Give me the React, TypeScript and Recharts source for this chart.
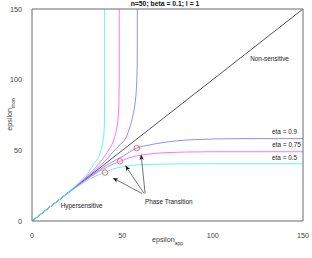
import React from 'react';
import { LineChart, Line, XAxis, YAxis, ReferenceDot, ReferenceLine } from 'recharts';

const ticks = [0, 50, 100, 150];

// eta = 0.5 (cyan)
const cyanLowX = [0, 10, 20, 25, 30, 35, 40.4, 45, 50, 55, 62, 70, 80, 100, 150];
const cyanLowY = [0, 10, 19.8, 24.2, 28.3, 31.7, 34.3, 36.9, 38.3, 39.3, 39.9, 40.2, 40.4, 40.5, 40.5];
const cyanUpX = [0, 10, 19.8, 24.2, 28.2, 31.6, 34.2, 36.8, 38.1, 39.1, 39.8, 40.1, 40.15, 40.2, 40.2];
const cyanUpY = [0, 10, 20, 25, 30, 35, 40.4, 45, 50, 55, 62, 70, 80, 100, 150];

// eta = 0.75 (magenta)
const magLowX = [0, 12, 24, 30, 36, 42, 48.7, 54, 60, 67, 75, 85, 100, 150];
const magLowY = [0, 12, 23.8, 29.2, 34.2, 38.5, 42.2, 44.8, 46.5, 47.7, 48.4, 48.8, 49, 49];
const magUpX = [0, 12, 23.8, 29, 33.9, 38, 41.7, 44.2, 45.9, 47.1, 47.8, 48.1, 48.3, 48.3];
const magUpY = [0, 12, 24, 30, 36, 42, 48.7, 54, 60, 67, 75, 85, 100, 150];

// eta = 0.9 (blue)
const blueLowX = [0, 14.5, 29, 36, 43, 50.5, 58, 65, 72, 80, 90, 100, 120, 150];
const blueLowY = [0, 14.5, 28.6, 35, 40.8, 46, 51.6, 53.8, 55.4, 56.7, 57.6, 58, 58.3, 58.3];
const blueUpX = [0, 14.5, 28.6, 35, 40.8, 46, 51.6, 53.8, 55.4, 56.7, 57.6, 58, 58.3, 58.3];
const blueUpY = [0, 14.5, 29, 36, 43, 50.5, 58, 65, 72, 80, 90, 100, 120, 150];

// non-sensitive diagonal
const diagX = [0, 150];
const diagY = [0, 150];

// phase transition markers
const transX = [40.4, 48.7, 58];
const transY = [34.3, 42.2, 51.6];

// arrows: tail -> tip
const arrowTailX = [61, 62, 62.6];
const arrowTailY = [19.4, 19.5, 19.5];
const arrowTipX = [44.7, 51.7, 60.4];
const arrowTipY = [30.5, 39.2, 47];

const notes = [
  { text: 'Non-sensitive', x: 131.5, y: 114.6 },
  { text: 'eta = 0.9', x: 139.8, y: 62.8 },
  { text: 'eta = 0.75', x: 140.9, y: 53.6 },
  { text: 'eta = 0.5', x: 139.8, y: 44.7 },
  { text: 'Hypersensitive', x: 27.5, y: 10.7 },
  { text: 'Phase Transition', x: 75.7, y: 13.6 },
];

const zip = (xs: number[], ys: number[]) => xs.map((x, i) => ({ x, y: ys[i] }));

const FONT = '"Liberation Sans", Arial, sans-serif';
const AXIS = '#6a6a6a';
const TICK_TEXT = '#404040';

const Arrow = (props: any) => {
  const { x1, y1, x2, y2 } = props;
  const a = Math.atan2(y2 - y1, x2 - x1);
  const len = 5.5;
  const w = 2.2;
  const bx = x2 - len * Math.cos(a);
  const by = y2 - len * Math.sin(a);
  const nx = x2 - (len - 1.5) * Math.cos(a);
  const ny = y2 - (len - 1.5) * Math.sin(a);
  const pts = `${x2},${y2} ${bx - w * Math.sin(a)},${by + w * Math.cos(a)} ${nx},${ny} ${bx + w * Math.sin(a)},${by - w * Math.cos(a)}`;
  return (
    <g>
      <line x1={x1} y1={y1} x2={nx} y2={ny} stroke="#3a3a3a" strokeWidth={0.7} />
      <polygon points={pts} fill="#111" />
    </g>
  );
};

const XLabel = (props: any) => {
  const { viewBox } = props;
  const cx = viewBox.x + viewBox.width / 2;
  return (
    <text x={cx} y={viewBox.y + 21} textAnchor="middle" fontFamily={FONT} fontSize={7.2} fill={TICK_TEXT}>
      <tspan>epsilon</tspan>
      <tspan dy={2.5} fontSize={5}>app</tspan>
    </text>
  );
};

const YLabel = () => {
  const cx = 12;
  const cy = 114.5;
  return (
    <text
      x={cx}
      y={cy}
      transform={`rotate(-90 ${cx} ${cy})`}
      textAnchor="middle"
      fontFamily={FONT}
      fontSize={7.2}
      fill={TICK_TEXT}
    >
      <tspan>epsilon</tspan>
      <tspan dy={2.5} fontSize={5}>mon</tspan>
    </text>
  );
};

export default function App() {
  const tickStyle = { fontSize: 7.2, fill: TICK_TEXT, fontFamily: FONT };
  const lw = 0.75;
  return (
    <div style={{ position: 'absolute', left: 0, top: 0, width: 312, height: 258, background: '#fff' }}>
      <div
        style={{
          position: 'absolute',
          left: 0,
          top: 0,
          width: 330,
          textAlign: 'center',
          fontFamily: FONT,
          fontWeight: 'bold',
          fontSize: 6.8,
          lineHeight: '8px',
          color: '#111',
        }}
      >
        n=50; beta = 0.1; l = 1
      </div>
      <LineChart width={312} height={258} margin={{ top: 9, right: 9, bottom: 6, left: 0 }}>
        <XAxis
          type="number"
          dataKey="x"
          domain={[0, 150]}
          ticks={ticks}
          allowDataOverflow
          height={31}
          tickLine={false}
          tickMargin={6}
          axisLine={{ stroke: AXIS }}
          tick={tickStyle}
          label={<XLabel />}
        />
        <YAxis
          type="number"
          dataKey="y"
          domain={[0, 150]}
          ticks={ticks}
          allowDataOverflow
          width={32}
          tickLine={false}
          tickMargin={4}
          axisLine={{ stroke: AXIS }}
          tick={tickStyle}
          label={<YLabel />}
        />
        {/* box + inward ticks on all four sides */}
        <XAxis xAxisId="top" type="number" orientation="top" mirror domain={[0, 150]} ticks={ticks} allowDataOverflow height={10} tick={false} tickSize={2.5} tickLine={{ stroke: AXIS }} axisLine={{ stroke: AXIS }} />
        <XAxis xAxisId="bin" type="number" orientation="bottom" mirror domain={[0, 150]} ticks={ticks} allowDataOverflow height={10} tick={false} tickSize={2.5} tickLine={{ stroke: AXIS }} axisLine={false} />
        <YAxis yAxisId="right" type="number" orientation="right" mirror domain={[0, 150]} ticks={ticks} allowDataOverflow width={10} tick={false} tickSize={2.5} tickLine={{ stroke: AXIS }} axisLine={{ stroke: AXIS }} />
        <YAxis yAxisId="lin" type="number" orientation="left" mirror domain={[0, 150]} ticks={ticks} allowDataOverflow width={10} tick={false} tickSize={2.5} tickLine={{ stroke: AXIS }} axisLine={false} />

        <Line data={zip(diagX, diagY)} dataKey="y" type="linear" stroke="#1a1a1a" strokeWidth={lw} dot={false} isAnimationActive={false} />
        <Line data={zip(blueUpX, blueUpY)} dataKey="y" type="monotoneY" stroke="#6a6aff" strokeWidth={lw} dot={false} isAnimationActive={false} />
        <Line data={zip(blueLowX, blueLowY)} dataKey="y" type="monotoneX" stroke="#6a6aff" strokeWidth={lw} dot={false} isAnimationActive={false} />
        <Line data={zip(magUpX, magUpY)} dataKey="y" type="monotoneY" stroke="#ff44ff" strokeWidth={lw} dot={false} isAnimationActive={false} />
        <Line data={zip(magLowX, magLowY)} dataKey="y" type="monotoneX" stroke="#ff44ff" strokeWidth={lw} dot={false} isAnimationActive={false} />
        <Line data={zip(cyanUpX, cyanUpY)} dataKey="y" type="monotoneY" stroke="#33f2f2" strokeWidth={lw} dot={false} isAnimationActive={false} />
        <Line data={zip(cyanLowX, cyanLowY)} dataKey="y" type="monotoneX" stroke="#33f2f2" strokeWidth={lw} dot={false} isAnimationActive={false} />

        {transX.map((x, i) => (
          <ReferenceDot key={`t${i}`} x={x} y={transY[i]} r={2.8} fill="none" stroke="#f04848" strokeWidth={0.8} />
        ))}

        {arrowTipX.map((x, i) => (
          <ReferenceLine
            key={`a${i}`}
            segment={[{ x: arrowTailX[i], y: arrowTailY[i] }, { x, y: arrowTipY[i] }]}
            stroke="#333"
            shape={<Arrow />}
          />
        ))}

        {notes.map((n) => (
          <ReferenceDot
            key={n.text}
            x={n.x}
            y={n.y}
            r={0}
            shape={(p: any) => (
              <text x={p.cx} y={p.cy} dy="0.35em" textAnchor="middle" fontFamily={FONT} fontSize={6.4} fill="#1a1a1a">
                {n.text}
              </text>
            )}
          />
        ))}
      </LineChart>
    </div>
  );
}
